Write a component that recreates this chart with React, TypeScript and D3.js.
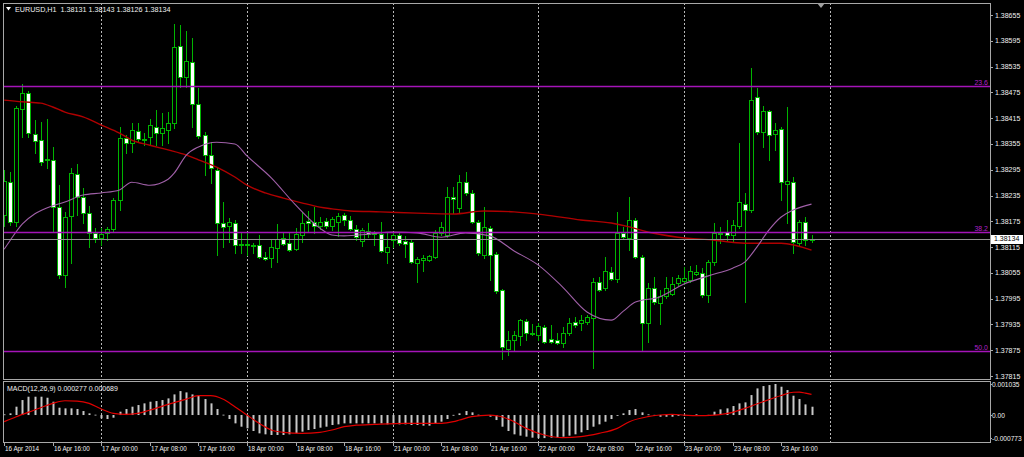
import React from "react";
import * as d3 from "d3";

// ---- price data (EURUSD H1), bar index 0 = 16 Apr 2014 08:00 ----
const opens = [
1.38190,1.38266,1.38173,1.38436,1.38474,1.38378,1.38364,1.38320,1.38318,1.38208,
1.38050,1.38187,1.38285,1.38231,1.38194,1.38148,1.38136,1.38148,1.38157,1.38225,
1.38369,1.38357,1.38385,1.38366,1.38371,1.38394,1.38380,1.38387,1.38404,1.38583,
1.38511,1.38546,1.38448,1.38376,1.38329,1.38294,1.38171,1.38164,1.38171,1.38122,
1.38120,1.38117,1.38120,1.38092,1.38089,1.38113,1.38136,1.38124,1.38110,1.38143,
1.38176,1.38173,1.38164,1.38176,1.38164,1.38173,1.38190,1.38178,1.38157,1.38129,
1.38152,1.38148,1.38145,1.38103,1.38131,1.38143,1.38129,1.38127,1.38078,1.38085,
1.38085,1.38092,1.38148,1.38143,1.38231,1.38206,1.38266,1.38241,1.38173,1.38096,
1.38159,1.38099,1.38015,1.37878,1.37899,1.37908,1.37943,1.37915,1.37910,1.37929,
1.37901,1.37899,1.37892,1.37915,1.37941,1.37938,1.37941,1.37950,1.38034,1.38020,
1.38057,1.38041,1.38148,1.38136,1.38178,1.38092,1.37938,1.38020,1.37985,1.38001,
1.38006,1.38031,1.38036,1.38038,1.38052,1.38055,1.38003,1.38080,1.38145,1.38150,
1.38143,1.38164,1.38215,1.38201,1.38464,1.38383,1.38432,1.38378,1.38390,1.38262,
1.38266,1.38124,1.38173,1.38131];
const highs = [
1.38294,1.38290,1.38443,1.38494,1.38478,1.38411,1.38406,1.38413,1.38348,1.38259,
1.38197,1.38299,1.38308,1.38252,1.38211,1.38159,1.38159,1.38162,1.38229,1.38394,
1.38376,1.38404,1.38404,1.38380,1.38413,1.38434,1.38427,1.38429,1.38634,1.38632,
1.38618,1.38601,1.38485,1.38383,1.38359,1.38299,1.38220,1.38183,1.38178,1.38150,
1.38148,1.38124,1.38143,1.38103,1.38131,1.38169,1.38150,1.38148,1.38159,1.38197,
1.38199,1.38208,1.38185,1.38183,1.38185,1.38194,1.38194,1.38187,1.38166,1.38159,
1.38171,1.38152,1.38173,1.38150,1.38150,1.38150,1.38141,1.38131,1.38092,1.38096,
1.38096,1.38155,1.38173,1.38255,1.38255,1.38283,1.38290,1.38248,1.38178,1.38208,
1.38164,1.38103,1.38017,1.37920,1.37920,1.37948,1.37948,1.37936,1.37938,1.37934,
1.37934,1.37915,1.37929,1.37950,1.37952,1.37957,1.37957,1.38043,1.38045,1.38092,
1.38069,1.38197,1.38162,1.38231,1.38183,1.38096,1.38031,1.38045,1.38015,1.38045,
1.38045,1.38050,1.38069,1.38071,1.38073,1.38066,1.38085,1.38171,1.38162,1.38178,
1.38178,1.38357,1.38241,1.38532,1.38485,1.38443,1.38434,1.38404,1.38394,1.38441,
1.38278,1.38178,1.38185,1.38143];
const lows = [
1.38164,1.38166,1.38164,1.38371,1.38371,1.38334,1.38306,1.38299,1.38150,1.38043,
1.38022,1.38078,1.38190,1.38171,1.38115,1.38127,1.38120,1.38131,1.38152,1.38201,
1.38334,1.38336,1.38359,1.38352,1.38352,1.38352,1.38352,1.38357,1.38392,1.38487,
1.38487,1.38394,1.38369,1.38283,1.38264,1.38096,1.38115,1.38127,1.38101,1.38101,
1.38096,1.38101,1.38089,1.38085,1.38069,1.38080,1.38120,1.38106,1.38108,1.38127,
1.38150,1.38148,1.38157,1.38159,1.38155,1.38141,1.38166,1.38155,1.38131,1.38117,
1.38138,1.38120,1.38103,1.38078,1.38115,1.38120,1.38092,1.38078,1.38034,1.38059,
1.38083,1.38089,1.38143,1.38138,1.38194,1.38197,1.38236,1.38171,1.38096,1.38089,
1.38038,1.38008,1.37854,1.37864,1.37875,1.37887,1.37899,1.37910,1.37899,1.37892,
1.37892,1.37889,1.37882,1.37910,1.37929,1.37922,1.37936,1.37834,1.38013,1.38015,
1.38038,1.38034,1.38136,1.38108,1.38089,1.37875,1.37894,1.37982,1.37936,1.37996,
1.38003,1.38027,1.38029,1.38034,1.38050,1.37999,1.37987,1.38073,1.38124,1.38131,
1.38129,1.38159,1.37987,1.38197,1.38378,1.38348,1.38318,1.38341,1.38225,1.38171,
1.38101,1.38120,1.38120,1.38126];
const closes = [
1.38269,1.38173,1.38439,1.38474,1.38380,1.38362,1.38313,1.38318,1.38208,1.38050,
1.38185,1.38287,1.38231,1.38194,1.38148,1.38136,1.38145,1.38157,1.38225,1.38369,
1.38357,1.38387,1.38366,1.38364,1.38399,1.38380,1.38392,1.38404,1.38581,1.38511,
1.38548,1.38448,1.38373,1.38329,1.38299,1.38171,1.38162,1.38173,1.38120,1.38120,
1.38122,1.38120,1.38092,1.38087,1.38115,1.38134,1.38122,1.38108,1.38145,1.38171,
1.38171,1.38164,1.38173,1.38164,1.38180,1.38187,1.38178,1.38157,1.38138,1.38155,
1.38145,1.38145,1.38106,1.38115,1.38143,1.38124,1.38122,1.38080,1.38087,1.38089,
1.38094,1.38148,1.38162,1.38231,1.38227,1.38266,1.38241,1.38173,1.38101,1.38162,
1.38096,1.38013,1.37882,1.37899,1.37910,1.37945,1.37915,1.37913,1.37931,1.37894,
1.37894,1.37892,1.37915,1.37938,1.37934,1.37945,1.37952,1.38034,1.38015,1.38059,
1.38041,1.38148,1.38138,1.38178,1.38092,1.37938,1.38020,1.37987,1.38001,1.38020,
1.38029,1.38043,1.38043,1.38059,1.38057,1.38003,1.38080,1.38148,1.38148,1.38143,
1.38166,1.38220,1.38201,1.38457,1.38383,1.38432,1.38376,1.38387,1.38266,1.38269,
1.38127,1.38173,1.38131,1.38134];

// moving averages (bar index, price)
const maSlowBars = [0,3,6,8,10,13,16,19,21,24,27,30,32,35,38,40,43,46,49,52,54,57,62,68,74,79,84,89,95,100,103,106,111,117,122,128,133];
const maSlowValues = [1.38457,1.38453,1.38450,1.38441,1.38429,1.38418,1.38399,1.38380,1.38364,1.38352,1.38341,1.38329,1.38318,1.38301,1.38278,1.38259,1.38241,1.38229,1.38218,1.38208,1.38204,1.38199,1.38197,1.38194,1.38192,1.38199,1.38197,1.38190,1.38178,1.38171,1.38162,1.38150,1.38138,1.38131,1.38124,1.38124,1.38108];
const maFastBars = [0,1,3,5,7,10,13,16,19,21,24,27,28,30,32,35,38,40,44,48,52,54,56,60,64,68,72,76,80,84,88,92,96,100,102,104,108,112,116,120,122,124,126,128,130,133];
const maFastValues = [1.38110,1.38131,1.38169,1.38192,1.38206,1.38220,1.38236,1.38241,1.38248,1.38266,1.38259,1.38273,1.38287,1.38329,1.38348,1.38359,1.38355,1.38327,1.38276,1.38213,1.38159,1.38143,1.38141,1.38145,1.38150,1.38148,1.38138,1.38148,1.38141,1.38106,1.38073,1.38022,1.37964,1.37945,1.37966,1.37987,1.37999,1.38029,1.38048,1.38066,1.38080,1.38115,1.38155,1.38185,1.38201,1.38215];

// MACD(12,26,9) histogram per bar
const macdMain = [
0.000022,0.000056,0.000278,0.000500,0.000611,0.000611,0.000611,0.000577,0.000444,0.000244,
0.000222,0.000222,0.000200,0.000133,0.000056,0.000011,-0.000111,-0.000133,-0.000089,0.000111,
0.000200,0.000278,0.000333,0.000389,0.000444,0.000466,0.000500,0.000555,0.000688,0.000799,
0.000755,0.000688,0.000644,0.000533,0.000389,0.000200,0.000011,-0.000133,-0.000278,-0.000389,
-0.000444,-0.000533,-0.000611,-0.000644,-0.000666,-0.000666,-0.000666,-0.000644,-0.000611,-0.000555,
-0.000500,-0.000466,-0.000422,-0.000389,-0.000333,-0.000311,-0.000278,-0.000278,-0.000278,-0.000278,
-0.000278,-0.000278,-0.000278,-0.000311,-0.000311,-0.000311,-0.000311,-0.000333,-0.000333,-0.000355,
-0.000355,-0.000278,-0.000222,-0.000133,0.000005,0.000056,0.000133,0.000089,0.000011,-0.000022,
-0.000056,-0.000167,-0.000389,-0.000533,-0.000644,-0.000688,-0.000722,-0.000755,-0.000773,-0.000770,
-0.000755,-0.000755,-0.000722,-0.000688,-0.000644,-0.000577,-0.000500,-0.000389,-0.000311,-0.000222,
-0.000133,-0.000022,0.000056,0.000167,0.000200,0.000089,0.000022,0.000005,-0.000056,-0.000056,
-0.000056,-0.000022,0.000005,-0.000022,0.000022,-0.000022,0.000005,0.000111,0.000189,0.000222,
0.000300,0.000389,0.000422,0.000666,0.000888,0.000966,0.000999,0.001035,0.000944,0.000833,
0.000644,0.000533,0.000355,0.000277];
const signalBars = [0,2,5,8,10,12,14,16,18,20,22,24,27,30,32,34,36,38,40,42,44,46,49,52,54,56,58,61,66,72,74,75,77,80,82,84,86,89,92,95,98,101,103,106,108,110,112,114,117,120,122,125,128,130,131,132,133];
const signalValues = [-0.000222,-0.000056,0.000167,0.000389,0.000477,0.000466,0.000389,0.000200,0.000056,0.000022,0.000056,0.000167,0.000355,0.000533,0.000644,0.000644,0.000533,0.000278,0.000000,-0.000278,-0.000500,-0.000577,-0.000611,-0.000577,-0.000500,-0.000389,-0.000340,-0.000311,-0.000278,-0.000278,-0.000222,-0.000167,-0.000056,0.000000,-0.000056,-0.000222,-0.000444,-0.000666,-0.000755,-0.000722,-0.000611,-0.000444,-0.000222,-0.000056,0.000000,0.000022,0.000000,-0.000022,0.000000,0.000089,0.000222,0.000444,0.000650,0.000760,0.000765,0.000730,0.000689];

// axes, grid, levels
const priceTicks = [1.38655,1.38595,1.38535,1.38475,1.38415,1.38355,1.38295,1.38235,1.38175,1.38115,1.38055,1.37995,1.37935,1.37875,1.37815];
const timeLabelBars = [0,8,16,24,32,40,48,56,64,72,80,88,96,104,112,120,128];
const timeLabels = ["16 Apr 2014","16 Apr 16:00","17 Apr 00:00","17 Apr 08:00","17 Apr 16:00","18 Apr 00:00","18 Apr 08:00","18 Apr 16:00","21 Apr 00:00","21 Apr 08:00","21 Apr 16:00","22 Apr 00:00","22 Apr 08:00","22 Apr 16:00","23 Apr 00:00","23 Apr 08:00","23 Apr 16:00"];
const gridBars = [16,40,64,88,112,136];
const fiboNames = ["23.6","38.2","50.0"];
const fiboPrices = [1.38490,1.38151,1.37874];
const bidPrice = 1.38134;
const macdTicks = [0.001035,0,-0.000773];
const macdTickLabels = ["0.001035","0.00","-0.000773"];
const headerText = "EURUSD,H1  1.38131 1.38143 1.38126 1.38134";
const macdText = "MACD(12,26,9) 0.000277 0.000689";

export default function App() {
  const W = 1024, H = 457;
  const left = 3, right = 990, top = 3, mainBottom = 379, macdTop = 381, macdBottom = 442;
  const x = d3.scaleLinear().domain([0, 133]).range([4.2, 4.2 + 6.07 * 133]);
  const y = d3.scaleLinear().domain([1.37815, 1.38655]).range([376, 15]);
  const ym = d3.scaleLinear().domain([-0.000773, 0.001035]).range([438.2, 384]);
  const font = "'Liberation Sans', Arial, sans-serif";
  const green = "#00b400";
  const border = "#a8a8a8";
  const gridCol = "#b8b8b8";
  const fibCol = "#a414b8";

  const lineMain = d3.line<[number, number]>().x(d => x(d[0])).y(d => y(d[1])).curve(d3.curveMonotoneX);
  const lineMacd = d3.line<[number, number]>().x(d => x(d[0])).y(d => ym(d[1])).curve(d3.curveMonotoneX);
  const slow = lineMain(maSlowBars.map((b, i) => [b, maSlowValues[i]] as [number, number])) || "";
  const fast = lineMain(maFastBars.map((b, i) => [b, maFastValues[i]] as [number, number])) || "";
  const sig = lineMacd(signalBars.map((b, i) => [b, signalValues[i]] as [number, number])) || "";

  return (
    <svg width={W} height={H} style={{ position: "absolute", left: 0, top: 0, display: "block", background: "#000" }}>
      <defs>
        <clipPath id="clipMain"><rect x={left} y={top} width={right - left} height={mainBottom - top} /></clipPath>
        <clipPath id="clipMacd"><rect x={left} y={macdTop} width={right - left} height={macdBottom - macdTop} /></clipPath>
      </defs>
      <rect x={0} y={0} width={W} height={H} fill="#000" />

      {/* vertical grid */}
      {gridBars.map(b => (
        <g key={"g" + b}>
          <line x1={Math.round(x(b)) + 0.5} x2={Math.round(x(b)) + 0.5} y1={top} y2={mainBottom} stroke={gridCol} strokeDasharray="2,2" strokeWidth={1} />
          <line x1={Math.round(x(b)) + 0.5} x2={Math.round(x(b)) + 0.5} y1={macdTop} y2={macdBottom + 3} stroke={gridCol} strokeDasharray="2,2" strokeWidth={1} />
        </g>
      ))}

      {/* candles */}
      <g clipPath="url(#clipMain)">
        {opens.map((o, i) => {
          const c = closes[i];
          const cx = Math.round(x(i));
          const yt = Math.round(y(Math.max(o, c)));
          const yb = Math.round(y(Math.min(o, c)));
          const bull = c >= o;
          return (
            <g key={"c" + i}>
              <line x1={cx + 0.5} x2={cx + 0.5} y1={Math.round(y(highs[i]))} y2={Math.round(y(lows[i])) + 1} stroke={green} strokeWidth={1} />
              <rect x={cx - 1.5} y={yt + 0.5} width={4} height={Math.max(yb - yt, 1)} fill={bull ? "#000" : "#fff"} stroke={green} strokeWidth={1} />
            </g>
          );
        })}
        <path d={slow} fill="none" stroke="#b00000" strokeWidth={1.4} />
        <path d={fast} fill="none" stroke="#a060a8" strokeWidth={1.1} />
        {fiboPrices.map((p, i) => (
          <g key={"f" + i}>
            <line x1={left} x2={right} y1={Math.round(y(p)) + 0.5} y2={Math.round(y(p)) + 0.5} stroke={fibCol} strokeWidth={1.3} />
            <text x={988} y={Math.round(y(p)) - 1.5} fill="#b020c8" fontSize={7} fontFamily={font} textAnchor="end">{fiboNames[i]}</text>
          </g>
        ))}
        <line x1={left} x2={right} y1={Math.round(y(bidPrice)) + 0.5} y2={Math.round(y(bidPrice)) + 0.5} stroke="#909090" strokeWidth={1} />
      </g>

      {/* MACD */}
      <g clipPath="url(#clipMacd)">
        {macdMain.map((v, i) => {
          const cx = Math.round(x(i));
          const y0 = ym(0), y1 = ym(v);
          return <rect key={"m" + i} x={cx - 0.5} y={Math.min(y0, y1)} width={2} height={Math.max(Math.abs(y1 - y0), 0.8)} fill="#c8c8c8" />;
        })}
        <path d={sig} fill="none" stroke="#e00000" strokeWidth={1.2} />
      </g>

      {/* frames */}
      <rect x={left + 0.5} y={top + 0.5} width={right - left} height={mainBottom - top} fill="none" stroke={border} strokeWidth={1} />
      <rect x={left + 0.5} y={macdTop + 0.5} width={right - left} height={macdBottom - macdTop} fill="none" stroke={border} strokeWidth={1} />

      {/* chart shift marker */}
      <polygon points="817,3 825,3 821,8" fill="#a0a0a0" />

      {/* header */}
      <polygon points="6,7 11,7 8.5,10.5" fill="#fff" />
      <text x={15} y={11.5} fill="#f0f0f0" fontSize={7.2} fontFamily={font} style={{ whiteSpace: "pre" }}>{headerText}</text>
      <text x={7} y={390.5} fill="#f0f0f0" fontSize={7} fontFamily={font}>{macdText}</text>

      {/* price axis */}
      {priceTicks.map(p => (
        <g key={"p" + p}>
          <line x1={right} x2={right + 3} y1={Math.round(y(p)) + 0.5} y2={Math.round(y(p)) + 0.5} stroke={border} />
          <text x={995} y={y(p) + 2.5} fill="#f0f0f0" fontSize={7} fontFamily={font}>{p.toFixed(5)}</text>
        </g>
      ))}
      <rect x={991} y={Math.round(y(bidPrice)) - 4} width={32} height={9} fill="#fff" />
      <text x={994} y={y(bidPrice) + 2.5} fill="#000" fontSize={7} fontFamily={font}>{bidPrice.toFixed(5)}</text>

      {/* MACD axis */}
      {macdTicks.map((v, i) => (
        <g key={"mt" + i}>
          <line x1={right} x2={right + 2} y1={Math.round(ym(v)) + 0.5} y2={Math.round(ym(v)) + 0.5} stroke={border} />
          <text x={992} y={ym(v) + 2.5} fill="#f0f0f0" fontSize={6.6} fontFamily={font}>{macdTickLabels[i]}</text>
        </g>
      ))}

      {/* time axis */}
      {timeLabelBars.map((b, i) => (
        <g key={"t" + b}>
          <line x1={Math.round(x(b)) + 0.5} x2={Math.round(x(b)) + 0.5} y1={macdBottom} y2={macdBottom + 4} stroke={border} />
          <text x={Math.round(x(b)) + 1} y={450.5} fill="#f0f0f0" fontSize={6.3} fontFamily={font}>{timeLabels[i]}</text>
        </g>
      ))}
    </svg>
  );
}
